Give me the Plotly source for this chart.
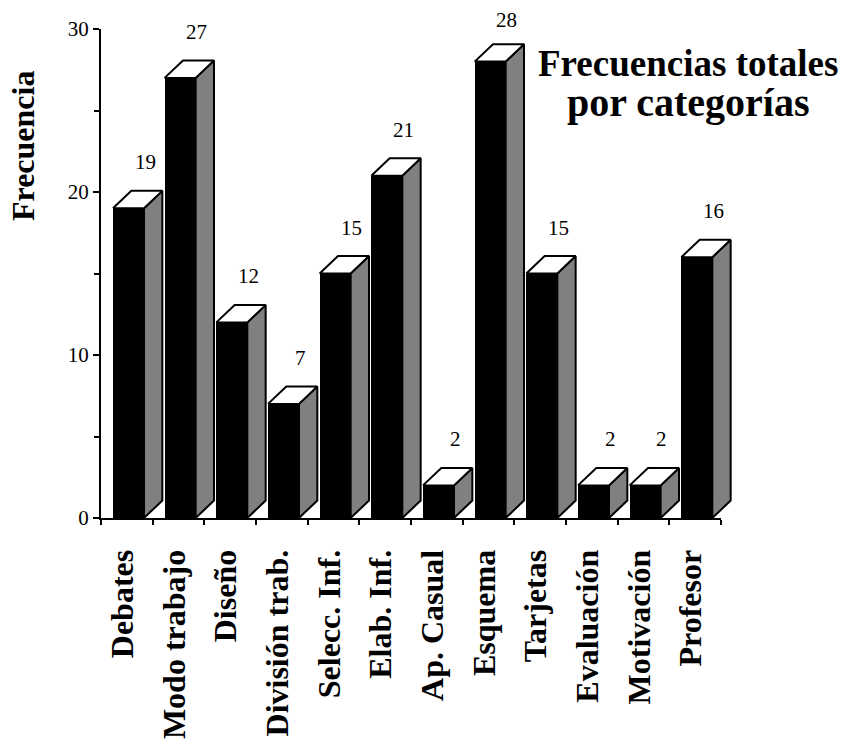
import plotly.graph_objects as go

# Category names and total frequencies
categories = ["Debates", "Modo trabajo", "Diseño", "División trab.", "Selecc. Inf.",
              "Elab. Inf.", "Ap. Casual", "Esquema", "Tarjetas", "Evaluación",
              "Motivación", "Profesor"]
frequencies = [19, 27, 12, 7, 15, 21, 2, 28, 15, 2, 2, 16]
y_ticks = [0, 10, 20, 30]
y_minor_ticks = [5, 15, 25]

# Geometry (in axis units) for the pseudo-3D boxes
BAR_WIDTH = 0.6
BAR_OFFSET = -0.268
DEPTH_X = 0.355
DEPTH_Y = 1.07
LABEL_SHIFT_X = -0.08            # category label nudge (axis units)

W, H = 846, 747
M_L, M_R, M_T, M_B = 101, 100, 29, 229
PLOT_W = 620                     # width of the main x axis in px
PAPER_W = W - M_L - M_R
PAPER_H = H - M_T - M_B
N = len(categories)
Y_MAX = 30
px_per_unit = PLOT_W / N
x2_max = -0.5 + PAPER_W / px_per_unit

xs = list(range(N))

side_x, side_y, top_x, top_y = [], [], [], []
for i, v in zip(xs, frequencies):
    xl = i + BAR_OFFSET
    xr = xl + BAR_WIDTH
    side_x += [xr, xr + DEPTH_X, xr + DEPTH_X, xr, xr, None]
    side_y += [0, DEPTH_Y, v + DEPTH_Y, v, 0, None]
    top_x += [xl, xl + DEPTH_X, xr + DEPTH_X, xr, xl, None]
    top_y += [v, v + DEPTH_Y, v + DEPTH_Y, v, v, None]

fig = go.Figure()

# Front faces
fig.add_trace(go.Bar(
    x=xs, y=frequencies, width=BAR_WIDTH, offset=BAR_OFFSET,
    marker=dict(color="black", line=dict(width=0)),
    xaxis="x", yaxis="y", hoverinfo="skip", showlegend=False,
))

# Side faces
fig.add_trace(go.Scatter(
    x=side_x, y=side_y, mode="lines", fill="toself",
    fillcolor="#808080", line=dict(color="black", width=2),
    xaxis="x2", yaxis="y", hoverinfo="skip", showlegend=False,
))

# Top faces
fig.add_trace(go.Scatter(
    x=top_x, y=top_y, mode="lines", fill="toself",
    fillcolor="white", line=dict(color="black", width=2),
    xaxis="x2", yaxis="y", hoverinfo="skip", showlegend=False,
))

serif = "Liberation Serif"

annotations = []
for i, v in zip(xs, frequencies):
    # keep value labels from running above the top of the figure
    top_px = M_T + (Y_MAX - v) * PAPER_H / Y_MAX
    shift = min(46, top_px - 20)
    annotations.append(dict(
        x=i + BAR_OFFSET + BAR_WIDTH + 0.02, y=v, xref="x", yref="y",
        text=str(v), showarrow=False, yshift=shift,
        xanchor="center", yanchor="middle",
        font=dict(family=serif, size=21, color="black"),
    ))

# Axis title
annotations.append(dict(
    x=(23 - M_L) / PAPER_W, y=(H - M_B - 146) / PAPER_H,
    xref="paper", yref="paper", text="<b>Frecuencia</b>", textangle=-90,
    showarrow=False, xanchor="center", yanchor="middle",
    font=dict(family=serif, size=32, color="black"),
))

# Chart title, two lines
for txt, cy, fs in [("Frecuencias totales", 64, 37), ("por categorías", 102, 40)]:
    annotations.append(dict(
        x=(688 - M_L) / PAPER_W, y=(H - M_B - cy) / PAPER_H,
        xref="paper", yref="paper", text=f"<b>{txt}</b>",
        showarrow=False, xanchor="center", yanchor="middle",
        font=dict(family=serif, size=fs, color="black"),
    ))

fig.update_layout(
    width=W, height=H,
    margin=dict(l=M_L, r=M_R, t=M_T, b=M_B, autoexpand=False),
    paper_bgcolor="white", plot_bgcolor="rgba(0,0,0,0)",
    showlegend=False,
    bargap=0,
    xaxis=dict(
        domain=[0, PLOT_W / PAPER_W], range=[-0.5, N - 0.5],
        tickmode="array", tickvals=[i + LABEL_SHIFT_X for i in xs],
        ticktext=categories,
        tickangle=-90, ticks="", ticklabelstandoff=17,
        tickfont=dict(family=serif, size=32, color="black", weight="bold"),
        showline=True, linecolor="black", linewidth=2,
        showgrid=False, zeroline=False, anchor="y", automargin=False,
        minor=dict(tickmode="array", tickvals=[k - 0.5 for k in range(N + 1)],
                   ticks="outside", ticklen=5, tickwidth=2, tickcolor="black",
                   showgrid=False),
    ),
    xaxis2=dict(
        domain=[0, 1], range=[-0.5, x2_max], anchor="y",
        visible=False, showgrid=False, zeroline=False,
    ),
    yaxis=dict(
        range=[0, Y_MAX], tickmode="array", tickvals=y_ticks,
        ticks="outside", ticklen=6, tickwidth=2, tickcolor="black",
        tickfont=dict(family=serif, size=21, color="black"),
        showline=True, linecolor="black", linewidth=2,
        showgrid=False, zeroline=False, anchor="x", automargin=False,
        minor=dict(tickmode="array", tickvals=y_minor_ticks,
                   ticks="outside", ticklen=5, tickwidth=2, tickcolor="black",
                   showgrid=False),
    ),
    annotations=annotations,
)

fig.write_html("out.html")
